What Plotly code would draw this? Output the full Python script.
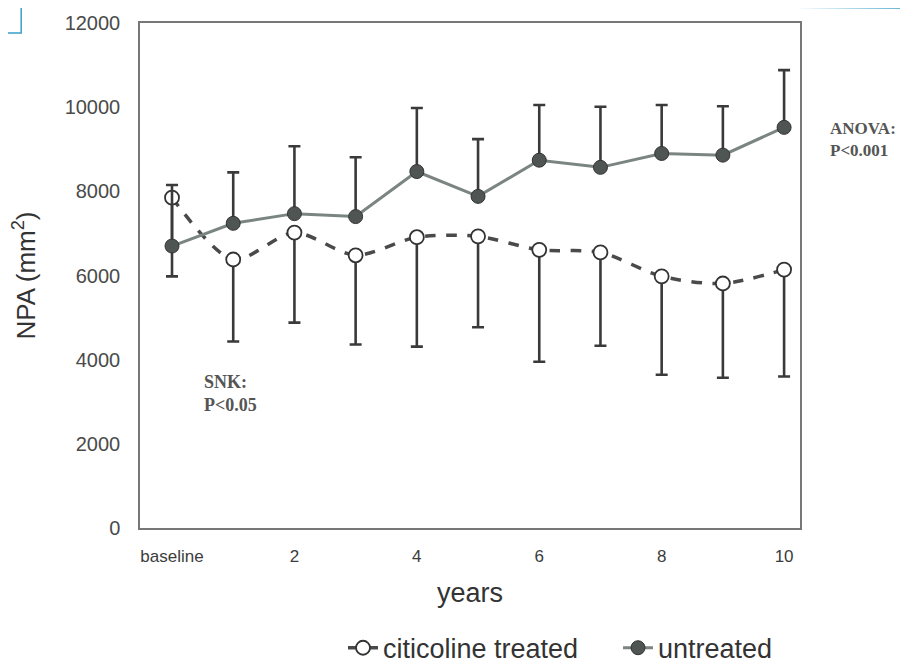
import plotly.graph_objects as go

years = [0, 1, 2, 3, 4, 5, 6, 7, 8, 9, 10]
tick_vals = [0, 2, 4, 6, 8, 10]
tick_text = ["baseline", "2", "4", "6", "8", "10"]
y_tick_vals = [0, 2000, 4000, 6000, 8000, 10000, 12000]
y_tick_text = ["0", "2000", "4000", "6000", "8000", "10000", "12000"]

citicoline = [7850, 6380, 7020, 6480, 6910, 6930, 6610, 6550, 5980, 5810, 6140]
citicoline_err_down = [1870, 1950, 2140, 2120, 2600, 2160, 2660, 2220, 2340, 2240, 2540]

untreated = [6700, 7240, 7470, 7400, 8470, 7880, 8740, 8570, 8900, 8860, 9520]
untreated_err_up = [1450, 1210, 1600, 1410, 1510, 1360, 1310, 1440, 1150, 1160, 1360]

fig = go.Figure()

fig.add_trace(go.Scatter(
    x=years, y=citicoline, name="citicoline treated",
    mode="lines+markers",
    line=dict(color="#4a4a4a", width=3.5, dash="dash", shape="spline", smoothing=0.8),
    marker=dict(symbol="circle", size=14, color="white", line=dict(color="#333333", width=1.8)),
    error_y=dict(type="data", symmetric=False, array=[0] * len(years),
                 arrayminus=citicoline_err_down, color="#3a3a3a", thickness=2.6, width=6),
))

fig.add_trace(go.Scatter(
    x=years, y=untreated, name="untreated",
    mode="lines+markers",
    line=dict(color="#7a8582", width=3),
    marker=dict(symbol="circle", size=14, color="#4f5553", line=dict(color="#333333", width=1)),
    error_y=dict(type="data", symmetric=False, array=untreated_err_up,
                 arrayminus=[0] * len(years), color="#3a3a3a", thickness=2.6, width=6),
))

# page body adds an 8px offset, so the figure is sized and margined to compensate
fig.update_layout(
    width=900, height=655,
    margin=dict(l=132, r=108, t=15, b=135, autoexpand=False),
    paper_bgcolor="white", plot_bgcolor="white",
    font=dict(family="Liberation Sans, Arial, sans-serif", color="#3c3c3c"),
    showlegend=True,
    legend=dict(orientation="h", x=0.3076, xanchor="left", y=-0.238, yanchor="middle",
                font=dict(size=27, color="#333333"), bgcolor="rgba(0,0,0,0)",
                entrywidth=230, entrywidthmode="pixels", tracegroupgap=0),
    xaxis=dict(range=[-0.523, 10.26], tickvals=tick_vals, ticktext=tick_text,
               automargin=False,
               showgrid=False, zeroline=False, showline=True, mirror=True,
               linecolor="#777777", linewidth=1.5, ticks="",
               tickfont=dict(size=17, color="#3c3c3c"), ticklabelstandoff=12,
               title=dict(text="years", font=dict(size=27, color="#333333"), standoff=18)),
    yaxis=dict(range=[0, 12000], tickvals=y_tick_vals, ticktext=y_tick_text,
               automargin=False,
               showgrid=False, zeroline=False, showline=True, mirror=True,
               linecolor="#777777", linewidth=1.5, ticks="",
               tickfont=dict(size=20, color="#4a4a4a"), ticklabelstandoff=14,
               title=dict(text="NPA (mm<sup>2</sup>)", font=dict(size=26, color="#333333"), standoff=24)),
)

fig.add_annotation(x=0.96, y=3200, xref="x", yref="y", text="<b>SNK:<br>P<0.05</b>",
                   showarrow=False, align="left",
                   font=dict(family="Liberation Serif, Times New Roman, serif", size=18, color="#555555"))
fig.add_annotation(x=1.042, y=(528 - 117) / 505, xref="paper", yref="paper", xanchor="left",
                   text="<b>ANOVA:<br>P<0.001</b>", showarrow=False, align="left",
                   font=dict(family="Liberation Serif, Times New Roman, serif", size=17, color="#555555"))

# scan artifacts: panel label box and top border line
fig.add_shape(type="rect", xref="paper", yref="paper",
              x0=-0.2197, x1=-0.180, y0=0.980, y1=1.06,
              line=dict(color="#3aa0c8", width=1.5))
fig.add_shape(type="line", xref="paper", yref="paper",
              x0=0.212, x1=1.2, y0=1.038, y1=1.030,
              line=dict(color="#3aa0c8", width=2))

fig.write_html("out.html")
